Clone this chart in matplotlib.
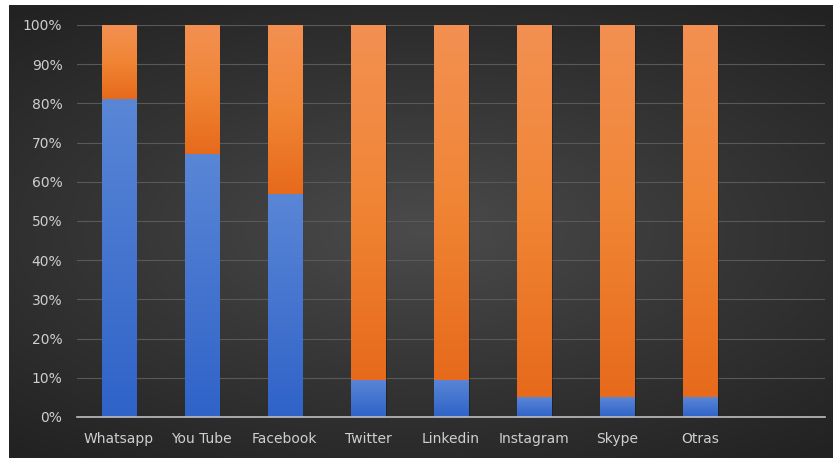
import numpy as np
import matplotlib
matplotlib.use("Agg")
import matplotlib.pyplot as plt
from matplotlib.colors import LinearSegmentedColormap

# --- data ---
categories = ["Whatsapp", "You Tube", "Facebook", "Twitter", "Linkedin",
              "Instagram", "Skype", "Otras"]
uso = [81, 67, 57, 9.5, 9.5, 5, 5, 5]          # blue part (%)
resto = [100 - v for v in uso]                 # orange part (%)
yticks = list(range(0, 101, 10))

plt.rcParams['font.family'] = ['DejaVu Sans']

fig = plt.figure(figsize=(8.33, 4.58), dpi=100)
fig.patch.set_facecolor("white")

# --- dark radial background panel ---
bg = fig.add_axes([9 / 833, 0, 824 / 833, 453 / 458])
yy, xx = np.mgrid[-1:1:300j, -1:1:500j]
r = np.sqrt((xx * 0.9) ** 2 + (yy * 1.1) ** 2)
bg_cmap = LinearSegmentedColormap.from_list("bg", ["#4b4b4b", "#353535", "#222222"])
bg.imshow(r, cmap=bg_cmap, aspect="auto", vmin=0, vmax=1.4)
bg.set_axis_off()

# --- main axes ---
ax = fig.add_axes([77 / 833, 41 / 458, 748 / 833, 392 / 458])
ax.set_facecolor("none")

x = np.arange(len(categories))
w = 0.41
blue_cmap = LinearSegmentedColormap.from_list("b", ["#2f63c8", "#5a86d6"])
orange_cmap = LinearSegmentedColormap.from_list("o", ["#e76a1b", "#f08535", "#f39052"])

# faint shadow on the right of each column
ax.bar(x + 0.02, [100] * len(x), w, color="#141414", alpha=0.45, zorder=2)

b1 = ax.bar(x, uso, w, color="#4472c4", zorder=2)
b2 = ax.bar(x, resto, w, bottom=uso, color="#ed7d31", zorder=2)

grad = np.linspace(0, 1, 256).reshape(-1, 1)
for bars, cm in ((b1, blue_cmap), (b2, orange_cmap)):
    for rect in bars:
        x0, y0 = rect.get_x(), rect.get_y()
        ax.imshow(grad, cmap=cm, origin="lower", aspect="auto", zorder=3,
                  extent=[x0, x0 + rect.get_width(), y0, y0 + rect.get_height()])

ax.set_xlim(-0.5, len(categories) + 0.5)
ax.set_ylim(0, 100)
ax.set_yticks(yticks)
ax.set_yticklabels([f"{v}%" for v in yticks])
ax.set_xticks(x)
ax.set_xticklabels(categories)

ax.grid(axis="y", color="#595959", linewidth=0.8, zorder=1)
ax.set_axisbelow(True)
for s in ("top", "right", "left"):
    ax.spines[s].set_visible(False)
ax.spines["bottom"].set_color("#bfbfbf")
ax.spines["bottom"].set_linewidth(1.2)
ax.spines["bottom"].set_zorder(4)

ax.tick_params(axis="both", length=0, colors="#cfcfcf", labelsize=10)
ax.tick_params(axis="y", pad=10.5)
ax.tick_params(axis="x", pad=11)

fig.savefig("out.png", dpi=100, facecolor=fig.get_facecolor())
